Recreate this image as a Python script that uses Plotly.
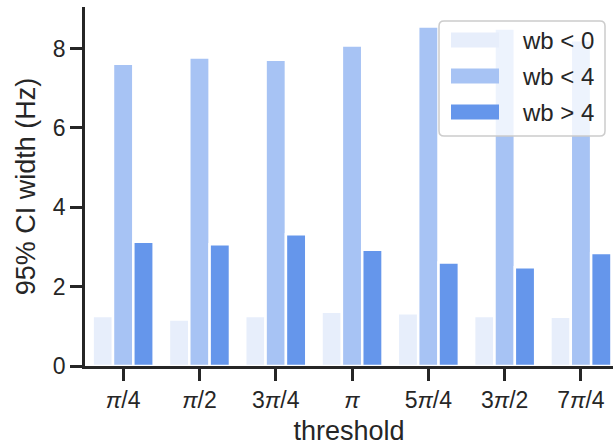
import plotly.graph_objects as go

categories = ["π/4", "π/2", "3π/4", "π", "5π/4", "3π/2", "7π/4"]
tick_labels = ["<i>π</i>/4", "<i>π</i>/2", "3<i>π</i>/4", "<i>π</i>", "5<i>π</i>/4", "3<i>π</i>/2", "7<i>π</i>/4"]
series_names = ["wb < 0", "wb < 4", "wb > 4"]
wb_lt0 = [1.26, 1.17, 1.26, 1.37, 1.33, 1.26, 1.24]
wb_lt4 = [7.62, 7.78, 7.72, 8.08, 8.56, 8.51, 8.21]
wb_gt4 = [3.13, 3.07, 3.32, 2.93, 2.61, 2.49, 2.85]
colors = ["#e7eefb", "#a7c3f4", "#6596eb"]

TXT = "#262626"
FONT = "Liberation Sans, Arial, sans-serif"

fig = go.Figure()
for name, vals, col in zip(series_names, [wb_lt0, wb_lt4, wb_gt4], colors):
    fig.add_trace(go.Bar(x=categories, y=vals, name=name,
                         marker=dict(color=col, line=dict(color="white", width=2.5)),
                         showlegend=False))

W, H = 613, 447
L, R, T, B = 85, 0, 7, 81
pw, ph = W - L - R, H - T - B

def px(x):
    return (x - L) / pw

def py(y):
    return (H - B - y) / ph

# legend box (rounded) in pixel coords converted to paper
x0, x1, y0, y1, r = 439, 605, 21, 136, 5
path = (f"M {px(x0 + r)} {py(y0)} L {px(x1 - r)} {py(y0)} Q {px(x1)} {py(y0)} {px(x1)} {py(y0 + r)} "
        f"L {px(x1)} {py(y1 - r)} Q {px(x1)} {py(y1)} {px(x1 - r)} {py(y1)} "
        f"L {px(x0 + r)} {py(y1)} Q {px(x0)} {py(y1)} {px(x0)} {py(y1 - r)} "
        f"L {px(x0)} {py(y0 + r)} Q {px(x0)} {py(y0)} {px(x0 + r)} {py(y0)} Z")
shapes = [dict(type="path", xref="paper", yref="paper", path=path,
               fillcolor="rgba(255,255,255,0.8)", line=dict(color="#cccccc", width=1.5),
               layer="above")]
annotations = []
row_centers = [40, 76, 112]
for name, col, yc in zip(series_names, colors, row_centers):
    shapes.append(dict(type="rect", xref="paper", yref="paper",
                       x0=px(451), x1=px(499), y0=py(yc - 7.5), y1=py(yc + 7.5),
                       fillcolor=col, line=dict(width=0), layer="above"))
    annotations.append(dict(x=px(520), y=py(yc), xref="paper", yref="paper",
                            text=name, showarrow=False, xanchor="left", yanchor="middle",
                            font=dict(size=24, color=TXT, family=FONT)))

fig.update_layout(
    width=W, height=H,
    margin=dict(l=L, r=R, t=T, b=B),
    paper_bgcolor="white", plot_bgcolor="white",
    barmode="group", bargap=0.2, bargroupgap=0,
    font=dict(family=FONT, color=TXT, size=22),
    shapes=shapes, annotations=annotations,
    showlegend=False,
)
fig.update_xaxes(
    range=[-0.5, 6.42], tickmode="array", tickvals=categories, ticktext=tick_labels,
    showline=True, linecolor=TXT, linewidth=2.5, ticks="outside", ticklen=12,
    tickwidth=2.5, tickcolor=TXT, showgrid=False, zeroline=False,
    tickfont=dict(size=23), title=dict(text="threshold", font=dict(size=27), standoff=9),
)
fig.update_yaxes(
    range=[0, 9.05], tickvals=[0, 2, 4, 6, 8],
    showline=True, linecolor=TXT, linewidth=2.5, ticks="outside", ticklen=12,
    tickwidth=2.5, tickcolor=TXT, showgrid=False, zeroline=False,
    tickfont=dict(size=23), title=dict(text="95% CI width (Hz)", font=dict(size=27), standoff=10),
)

fig.write_html("out.html", config={"displayModeBar": False},
               post_script="document.body.style.margin='0px';")
